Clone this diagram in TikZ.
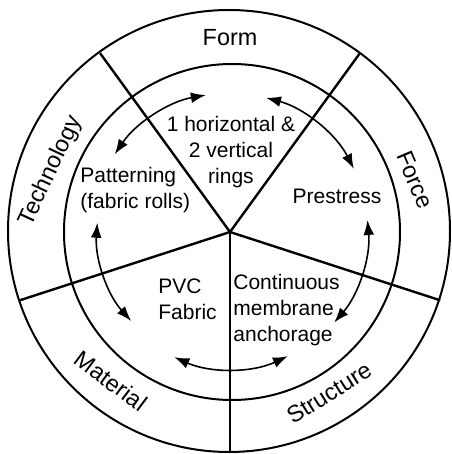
\documentclass[tikz,border=0pt]{standalone}
\usepackage{fontspec}
\setmainfont{Liberation Sans}
\usetikzlibrary{arrows.meta}
\begin{document}
\begin{tikzpicture}[x=0.5pt,y=0.5pt,
  ring/.style={line width=1pt},
  spoke/.style={line width=1.2pt},
  cyc/.style={line width=0.8pt,{Latex[length=7.5pt,width=5.4pt]}-{Latex[length=7.5pt,width=5.4pt]}},
  lbl/.style={font=\fontsize{11.7}{14}\selectfont,inner sep=0pt},
  txt/.style={font=\fontsize{10.5}{13}\selectfont,inner sep=0pt,align=center},
  txtl/.style={font=\fontsize{10.5}{13}\selectfont,inner sep=0pt,align=left}]
\useasboundingbox (-230,-222) rectangle (221,232);
\coordinate (c) at (0,0);
% circles
\draw[ring] (-1,1) circle[radius=221];
\draw[ring] (2,0) circle[radius=168];
% spokes
\foreach \a/\n in {126/s1,54/s2,-18/s3,-90/s4,-162/s5}{
  \coordinate (\n) at (\a:221);
  \draw[spoke] (c) -- (\n);
}
% outer labels
\node[lbl] (form) at (0,194) {Form};
\node[lbl,rotate=65] (tech) at (-179,61) {Technology};
\node[lbl,rotate=-67] (force) at (185,52) {Force};
\node[lbl,rotate=-37] (mat) at (-119,-149) {Material};
\node[lbl,rotate=32] (struct) at (99,-161) {Structure};
% inner labels
\node[txt] (rings) at (1,80) {1 horizontal \&\\2 vertical\\rings};
\node[txtl,anchor=west] (patt) at (-150,42) {Patterning\\(fabric rolls)};
\node[txt] (pre) at (107,36) {Prestress};
\node[txtl,anchor=west] (pvc) at (-72,-67) {PVC\\Fabric};
\node[txtl,anchor=west] (cont) at (3,-78) {Continuous\\membrane\\anchorage};
% cycle arrows
\draw[cyc] (146:139) arc[start angle=146,end angle=100,radius=139];
\draw[cyc] (75:139) arc[start angle=75,end angle=27,radius=139];
\draw[cyc] (5:138) arc[start angle=5,end angle=-41,radius=138];
\draw[cyc] (-65:137) arc[start angle=-65,end angle=-114,radius=137];
\draw[cyc] (222:133) arc[start angle=222,end angle=176,radius=133];
\end{tikzpicture}
\end{document}
